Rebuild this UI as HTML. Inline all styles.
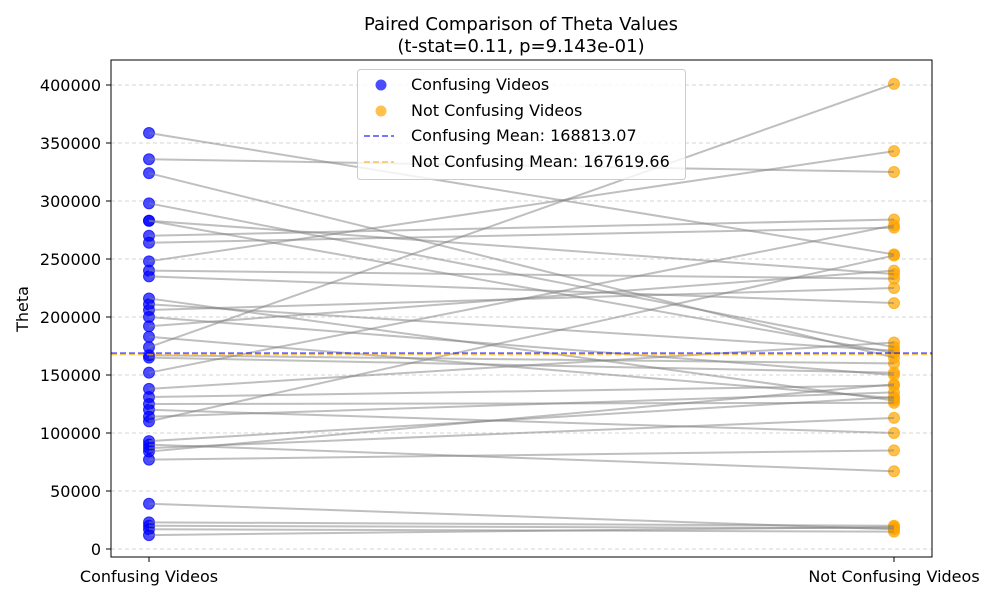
<!DOCTYPE html>
<html><head><meta charset="utf-8"><style>
body{margin:0;background:#fff;}
svg{display:block;font-family:"DejaVu Sans","Liberation Sans",sans-serif;}
</style></head><body>
<svg id="chart" width="1000" height="600">
<rect width="1000" height="600" fill="#fff"/>
<text x="521" y="30" font-size="18" text-anchor="middle">Paired Comparison of Theta Values</text>
<text x="521" y="52" font-size="18" text-anchor="middle">(t-stat=0.11, p=9.143e-01)</text>
<g id="grid"></g><g id="yticks"></g><g id="marks"></g><g id="lines"></g>
<rect x="111" y="60" width="821" height="497" fill="none" stroke="#000" stroke-width="1"/>
<text x="28" y="309" font-size="16" text-anchor="middle" transform="rotate(-90 28 309)">Theta</text>
<g>
<rect x="357.5" y="69.5" width="328" height="110" rx="3" fill="#fff" fill-opacity="0.8" stroke="#ccc"/>
<circle cx="381" cy="85" r="5.5" fill="#0000ff" fill-opacity="0.7"/>
<text x="411" y="90" font-size="16">Confusing Videos</text>
<circle cx="381" cy="111" r="5.5" fill="#ffa500" fill-opacity="0.7"/>
<text x="411" y="116" font-size="16">Not Confusing Videos</text>
<line x1="364" y1="136" x2="394" y2="136" stroke="#0000ff" stroke-opacity="0.7" stroke-width="1.5" stroke-dasharray="6,3"/>
<text x="411" y="141" font-size="16">Confusing Mean: 168813.07</text>
<line x1="364" y1="162" x2="394" y2="162" stroke="#ffa500" stroke-opacity="0.7" stroke-width="1.5" stroke-dasharray="6,3"/>
<text x="411" y="167" font-size="16">Not Confusing Mean: 167619.66</text>
</g>
<line x1="149" y1="557" x2="149" y2="562" stroke="#000"/>
<line x1="894" y1="557" x2="894" y2="562" stroke="#000"/>
<text x="149" y="582" font-size="16" text-anchor="middle">Confusing Videos</text>
<text x="894" y="582" font-size="16" text-anchor="middle">Not Confusing Videos</text>
</svg>
<script>
const categories = ["Confusing Videos", "Not Confusing Videos"];
const confusing = [358600,336000,324000,298000,283000,283000,270000,264000,248000,240000,235000,216000,211000,206000,200000,192000,183000,174000,167000,165000,152000,138000,131000,125000,120000,114000,110000,93000,90000,87000,84000,77000,39000,23000,20000,17000,12000];
const notConfusing = [254000,325000,165000,174000,237000,169000,284000,277000,343000,233000,212000,128000,171000,225000,150000,240000,130000,401000,160000,152000,279000,178000,141000,126000,100000,135000,253000,131000,67000,113000,142000,85000,17000,20000,18000,15000,19000];
const yTicks = [0,50000,100000,150000,200000,250000,300000,350000,400000];
const means = [168813.07, 167619.66];
const NS="http://www.w3.org/2000/svg";
function y(v){return 549 - v*464/400000;}
function x(i){return i===0?149:894;}
function mk(tag,attrs,parent){const e=document.createElementNS(NS,tag);for(const k in attrs)e.setAttribute(k,attrs[k]);parent.appendChild(e);return e;}
const grid=document.getElementById('grid'),yt=document.getElementById('yticks'),marks=document.getElementById('marks'),lines=document.getElementById('lines');
yTicks.forEach(t=>{
  const g=mk('line',{x1:111,x2:932,y1:y(t),y2:y(t),stroke:'#b0b0b0','stroke-width':0.8,'stroke-dasharray':'4,3','stroke-opacity':0.7},grid);
  
  
  mk('line',{x1:106,x2:111,y1:y(t),y2:y(t),stroke:'#000'},yt);
  const tx=mk('text',{x:101,y:y(t)+6,'font-size':16,'text-anchor':'end'},yt);
  tx.textContent=String(t);
  
  
});
confusing.forEach(v=>{
  const c=mk('circle',{cx:x(0),cy:y(v),r:5.5,fill:'#0000ff','fill-opacity':0.7,stroke:'#0000ff','stroke-opacity':0.7},marks);
  
  
});
notConfusing.forEach(v=>{
  const c=mk('circle',{cx:x(1),cy:y(v),r:5.5,fill:'#ffa500','fill-opacity':0.7,stroke:'#ffa500','stroke-opacity':0.7},marks);
  
  
});
confusing.forEach((v,i)=>{
  const l=mk('line',{x1:x(0),y1:y(v),x2:x(1),y2:y(notConfusing[i]),stroke:'#808080','stroke-opacity':0.5,'stroke-width':2},lines);
  
  
});
const mc=['#0000ff','#ffa500'];
means.forEach((m,i)=>{
  const l=mk('line',{x1:111,x2:932,y1:y(m),y2:y(m),stroke:mc[i],'stroke-opacity':0.7,'stroke-width':1.5,'stroke-dasharray':'6,3'},lines);
  
  
});
</script>
</body></html>
